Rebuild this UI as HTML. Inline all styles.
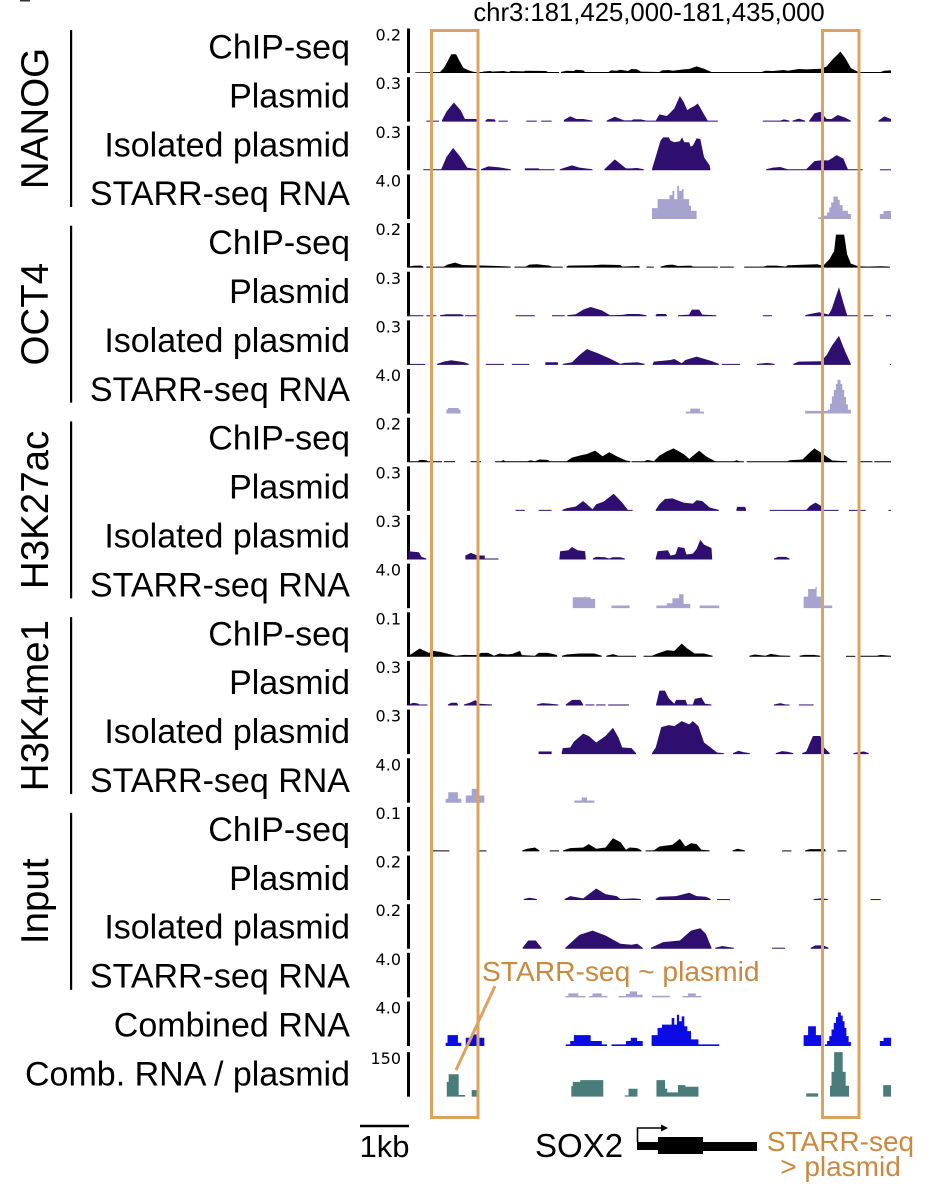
<!DOCTYPE html>
<html lang="en">
<head>
<meta charset="utf-8">
<title>SOX2 locus STARR-seq tracks</title>
<style>
html,body{margin:0;padding:0;background:#fff}
svg{display:block;font-family:"Liberation Sans",sans-serif}
</style>
</head>
<body>
<svg id="chart" xmlns="http://www.w3.org/2000/svg" width="942" height="1200" viewBox="0 0 942 1200">
  <rect x="0" y="0" width="942" height="1200" fill="#fff"/>
  <rect x="20" y="0" width="10" height="1.5" fill="#333"/>
  <text x="649" y="21" font-size="25.7" text-anchor="middle" fill="#000">chr3:181,425,000-181,435,000</text>
  <g id="groups"></g>
  <g id="tracks"></g>
  <g fill="none" stroke="#dca35f" stroke-width="3">
    <rect x="431.5" y="30.5" width="46.5" height="1087"/>
    <rect x="822.5" y="30.5" width="36.5" height="1087"/>
  </g>
  <text x="482" y="981" font-size="28.2" fill="#c98a3f">STARR-seq ~ plasmid</text>
  <line x1="456" y1="1070" x2="495" y2="986" stroke="#dca35f" stroke-width="3"/>
  <line x1="360" y1="1126" x2="409" y2="1126" stroke="#000" stroke-width="2.5"/>
  <text x="384.5" y="1157" font-size="31" text-anchor="middle" fill="#000">1kb</text>
  <text x="535" y="1157" font-size="33" fill="#000">SOX2</text>
  <g fill="#000">
    <rect x="637" y="1142" width="22" height="8"/>
    <rect x="658" y="1137" width="45" height="17"/>
    <rect x="703" y="1142" width="54" height="9"/>
    <path d="M637.5 1142V1128H662" fill="none" stroke="#000" stroke-width="1.6"/>
    <path d="M661 1124.5L668 1128L661 1131.5Z"/>
  </g>
  <text x="840.5" y="1151" font-size="28" text-anchor="middle" fill="#c98a3f">STARR-seq</text>
  <text x="840.5" y="1176" font-size="28" text-anchor="middle" fill="#c98a3f">&gt; plasmid</text>
</svg>
<script>
// Genomic axis: positions are bins across chr3:181,425,000-181,435,000. Signal: units of track height.
const xDomain = [130, 1428];
const yDomainMax = 135;
const groupNames = ['NANOG', 'OCT4', 'H3K27ac', 'H3K4me1', 'Input'];
const assayNames = ['ChIP-seq', 'Plasmid', 'Isolated plasmid', 'STARR-seq RNA'];
const tickLabels = ['0.2','0.3','0.3','4.0','0.2','0.3','0.3','4.0','0.2','0.3','0.3','4.0','0.1','0.3','0.3','4.0','0.1','0.2','0.2','4.0','4.0','150'];

const nanogChip = [[148,2,215,3,225,15,235,35,245,57,258,57,268,35,278,15,290,9,300,5,308,3,330,3],[330,4,350,6,355,4,385,6,400,3,405,6,440,5,445,7,500,6,505,3,535,3],[540,3,555,7,575,6,580,10,600,8,605,3,668,3,675,8,690,7,700,10,720,6,730,12,745,11,755,4,805,3,812,8,830,9,840,7,870,11,885,12,905,20,925,13,945,3,1080,3,1090,7,1110,6,1140,9,1150,7,1180,12,1200,11,1240,13,1255,20,1270,40,1292,65,1305,45,1320,15,1340,3,1400,3,1410,7,1428,8]];
const nanogPlasmid = [[178,3,212,3],[220,4,232,30,252,58,270,35,282,8,312,8,316,3],[337,3,342,8,362,7,364,3],[372,3,397,3],[447,3,475,3],[487,3,515,3],[548,5,565,16,582,8,600,8,625,3],[663,3,685,15,710,4,730,4,735,7,755,7,770,3,795,3,805,22,825,17,835,28,845,40,860,78,870,60,880,35,890,42,900,48,908,55,915,42,925,22,935,3,962,3],[1083,3,1130,3,1140,7,1155,3],[1163,3,1180,9,1197,3],[1208,3,1222,25,1238,30,1255,8,1268,8,1285,20,1305,12,1320,3],[1394,3,1410,16,1428,8]];
const nanogIsolated = [[170,3,218,3,232,40,250,68,270,40,288,8,316,3],[325,3,345,12,375,9,405,3],[443,6,480,6,482,3,523,3],[537,3,570,15,590,8,625,3],[657,3,685,33,715,6,730,6,745,7,763,3],[785,3,808,90,815,100,830,100,835,90,845,85,860,88,866,100,872,85,885,85,889,72,895,75,905,97,915,95,925,40,940,15,942,3],[1092,3,1110,8,1130,10,1150,3,1200,3,1222,28,1238,30,1260,30,1282,46,1300,35,1312,3,1352,3],[1398,3,1428,3]];
const nanogRna = [[785,33,800,60,832,72,840,85,845,60,853,100,858,85,865,90,870,60,880,60,885,40,890,25,905,0],[1232,5,1245,10,1256,20,1262,35,1267,50,1273,68,1285,58,1290,42,1298,25,1312,15,1320,0],[1398,15,1408,24,1428,0]];

const oct4Chip = [[130,3,145,6,165,6,170,3],[178,3,225,3,235,9,255,15,275,8,340,6,385,4,405,3],[415,3,445,3,455,9,475,10,510,6,515,3,545,3],[555,3,560,6,625,7,650,9,700,8,705,3,728,4,750,5,752,3],[770,3,790,3],[808,3,825,8,840,9,855,5,890,6,895,3,962,3],[968,3,1005,3],[1033,3,1085,3,1095,6,1120,6,1145,3,1150,7,1200,9,1230,10,1245,5,1262,25,1275,50,1280,100,1302,100,1310,40,1320,12,1340,4,1365,3,1400,4,1425,3]];
const oct4Plasmid = [[130,3,170,3],[178,3,205,3],[215,3,232,6,270,6,278,3],[282,3,316,3],[418,3,470,3],[516,3,550,3],[557,3,580,6,600,20,620,28,650,18,672,3,705,4,720,7,750,7,770,3],[795,3,798,7,822,7,825,3],[855,3,885,5,892,20,912,20,920,5,958,3],[1083,3,1108,3],[1197,3,1210,7,1235,12,1260,5,1268,20,1288,88,1300,40,1310,3,1338,3],[1355,3,1380,3],[1414,3,1428,3]];
const oct4Isolated = [[133,3,175,3],[207,3,225,10,245,14,280,8,292,3],[338,3,387,3],[408,3,455,3],[498,8,532,8],[545,3,570,8,590,30,610,48,640,35,670,20,700,3,710,6,745,8,765,3],[787,3,790,10,835,15,845,18,865,5,875,15,905,25,945,12,965,3],[973,3,1022,3],[1067,3,1095,6,1115,3],[1165,3,1180,10,1240,11,1255,30,1270,60,1288,88,1305,40,1320,3],[1425,3,1428,3]];
const oct4Rna = [[232,12,236,17,265,12,270,0],[876,6,888,15,914,6,925,0],[1197,8,1258,12,1264,30,1269,52,1274,72,1280,90,1284,102,1292,90,1297,72,1302,50,1307,28,1312,12,1320,0]];

const h3k27acChip = [[133,3,155,3,160,7,178,6,182,3,220,3],[225,3,255,3],[297,3,325,3],[363,3,380,3,385,7,390,3,450,3,458,6,470,3,482,8,505,7,510,3,555,3,570,14,590,20,610,25,632,35,652,18,670,30,690,18,715,5,727,3],[730,3,765,3,772,7,790,3,805,20,825,33,843,42,870,25,885,10,912,35,930,18,955,3,1005,3,1012,6,1020,3,1032,3],[1040,3,1150,3,1155,6,1190,8,1205,25,1222,42,1245,25,1270,5,1310,3],[1345,3,1378,3],[1383,3,1428,3]];
const h3k27acPlasmid = [[418,3,443,3],[480,3,515,3],[544,3,555,8,580,13,600,30,625,5,635,20,655,28,682,52,705,25,720,3,733,3],[795,3,805,20,820,36,840,38,870,25,895,22,905,32,920,30,940,10,965,3],[1012,3,1014,12,1036,12,1038,3],[1102,3,1200,3,1210,15,1225,25,1240,15,1248,3,1287,3],[1315,3,1360,3],[1421,3,1428,3]];
const h3k27acIsolated = [[130,25,158,22,165,8,178,3],[283,12,298,20,315,12,335,12,335,3,372,3],[536,3,538,25,560,28,570,38,585,28,605,25,607,3],[626,3,635,8,658,7,670,3,680,7,700,7,712,3],[795,3,800,25,828,28,835,12,848,15,855,38,872,35,878,15,895,18,905,32,915,60,925,45,945,35,947,3],[1113,3,1125,8,1145,8,1155,3]];
const h3k27acRna = [[572,33,604,37,606,33,620,28,632,0],[676,8,725,0],[797,8,825,15,840,30,858,42,870,13,888,0],[913,8,966,0],[1193,35,1205,58,1225,65,1228,35,1240,8,1270,0]];

const h3k4me1Chip = [[130,3,140,10,160,25,185,12,195,18,215,15,240,8,258,3,280,6,315,5,325,12,345,12,360,3,375,10,395,7,410,9,430,18,435,5,470,3,480,12,505,12,528,6,530,3],[543,3,555,7,590,10,630,10,650,3],[662,3,680,8,695,3,742,3],[762,3,785,3,800,10,825,20,845,18,865,40,880,25,900,10,925,10,948,3],[1047,3,1062,7,1090,3,1105,9,1130,4,1157,3],[1182,3,1195,6,1220,6,1238,3],[1307,3,1332,3],[1345,3,1390,3,1400,6,1428,3]];
const h3k4me1Plasmid = [[130,3,143,8,155,6,160,3,181,3],[236,3,245,8,260,8,263,3],[279,3,295,8,310,16,320,5,355,3],[475,3,490,7,505,6,533,3],[553,3,570,17,592,17,600,3],[606,3,630,3],[635,3,660,3],[667,3,723,3],[796,3,805,45,820,45,830,22,845,5,850,17,875,17,880,3,895,3,900,20,918,24,928,5,945,3],[1113,3,1130,7,1145,3,1155,3],[1180,3,1220,3]];
const h3k4me1Isolated = [[480,8,515,8],[542,3,545,18,565,20,575,38,600,62,615,55,635,35,660,55,680,80,695,50,705,20,730,18,742,3],[785,3,795,20,810,82,830,88,845,85,865,100,885,90,895,100,910,85,925,35,945,18,960,5,978,3],[1003,3,1018,10,1030,6,1048,3],[1118,3,1135,9,1150,7,1165,3],[1189,3,1200,8,1218,55,1238,55,1248,20,1263,3],[1327,3,1340,6,1355,8,1368,3]];
const h3k4me1Rna = [[230,12,237,32,263,12,272,0],[284,22,300,42,317,22,334,0],[576,7,596,16,610,7,630,0]];

const inputChip = [[195,3,240,3],[320,3,340,3],[436,3,450,8,470,12,482,3],[510,3,535,3],[546,3,565,10,600,12,615,22,635,8,660,12,680,40,700,28,715,5,725,12,745,10,757,3],[768,3,790,3,805,15,840,20,860,38,875,15,890,25,905,22,918,5,940,3],[1002,3,1015,8,1035,3],[1135,3,1160,3],[1197,3,1210,7,1250,7,1252,3],[1284,3,1308,3]];
const inputPlasmid = [[440,3,455,7,475,3],[550,3,565,12,600,5,635,35,660,18,690,12,700,3,735,5,755,3],[795,3,805,10,850,12,885,22,905,12,930,10,943,3],[960,3,995,3],[1220,3,1240,5,1258,3],[1373,3,1400,3]];
const inputIsolated = [[437,3,452,25,472,25,488,3],[552,3,590,42,625,55,660,40,700,15,730,12,745,15,760,3],[782,3,815,20,860,25,890,55,915,62,930,45,945,3],[955,3,975,8,990,5,1005,3],[1108,3,1143,3],[1212,3,1225,10,1245,10,1260,3]];
const inputRna = [[552,4,560,12,587,4,606,0],[616,4,625,12,650,4,665,0],[695,4,715,10,725,18,745,8,760,0],[785,5,833,0],[867,4,882,12,903,4,918,0]];

const combinedRna = [[230,10,235,33,263,10,272,0],[284,25,303,35,315,25,334,0],[553,5,565,15,575,33,620,15,650,5,664,0],[676,5,715,15,728,25,745,15,760,0],[784,33,800,55,812,65,830,65,838,85,845,65,852,95,858,75,865,90,872,60,880,45,890,20,910,5,966,0],[1193,33,1205,60,1226,33,1240,0],[1250,5,1256,15,1262,30,1268,50,1274,70,1280,88,1285,102,1293,92,1298,75,1303,55,1308,30,1314,12,1320,0],[1398,15,1408,25,1428,0]];
const combinedRatio = [[233,45,238,68,265,5,282,0],[300,20,314,0],[568,32,572,45,592,50,654,0],[712,4,722,24,746,0],[797,50,820,24,826,13,855,35,875,30,910,0],[1200,10,1232,0],[1264,33,1268,75,1275,135,1298,75,1306,33,1315,0],[1407,35,1428,0]];

const trackSeries = [nanogChip,nanogPlasmid,nanogIsolated,nanogRna,oct4Chip,oct4Plasmid,oct4Isolated,oct4Rna,h3k27acChip,h3k27acPlasmid,h3k27acIsolated,h3k27acRna,h3k4me1Chip,h3k4me1Plasmid,h3k4me1Isolated,h3k4me1Rna,inputChip,inputPlasmid,inputIsolated,inputRna,combinedRna,combinedRatio];

const NS = 'http://www.w3.org/2000/svg';
const plot = {x0: 408.5, x1: 891, top: 28.5, rowStep: 48.65, axisH: 44.5};
const brackets = {top: 30, step: 195.7, height: 177};
const rowLabels = {firstBaseline: 58.5, step: 48.9};
const colors = {'ChIP-seq':'#000', 'Plasmid':'#2e0e6e', 'Isolated plasmid':'#2e0e6e', 'STARR-seq RNA':'#a6a3cf', 'Combined RNA':'#0b0be6', 'Comb. RNA / plasmid':'#4a7c7c'};

function xScale(pos) {
  return plot.x0 + (pos - xDomain[0]) / (xDomain[1] - xDomain[0]) * (plot.x1 - plot.x0);
}
function yScale(val, base) {
  return base - val / yDomainMax * plot.axisH;
}
function rowTop(i) {
  return plot.top + i * plot.rowStep + (i === 21 ? 2 : 0);
}
function segmentPoints(seg, base, step) {
  const pts = [[xScale(seg[0]), base]];
  for (let k = 0; k < seg.length; k += 2) {
    const px = xScale(seg[k]);
    const py = yScale(seg[k + 1], base);
    if (step && k > 0) pts.push([px, yScale(seg[k - 1], base)]);
    pts.push([px, py]);
  }
  pts.push([xScale(seg[seg.length - 2]), base]);
  return pts.map(p => p[0].toFixed(2) + ',' + p[1].toFixed(2)).join(' ');
}

const svgTracks = document.getElementById('tracks');
const svgGroups = document.getElementById('groups');

trackSeries.forEach(function (series, i) {
  const isGroup = i < 20;
  const assay = isGroup ? assayNames[i % 4] : (i === 20 ? 'Combined RNA' : 'Comb. RNA / plasmid');
  const step = assay === 'STARR-seq RNA' || !isGroup;
  const top = rowTop(i);
  const base = top + plot.axisH;

  const g = document.createElementNS(NS, 'g');
  
  

  const label = document.createElementNS(NS, 'text');
  
  
  label.setAttribute('x', 350);
  label.setAttribute('y', rowLabels.firstBaseline + i * rowLabels.step);
  label.setAttribute('font-size', 34);
  label.setAttribute('text-anchor', 'end');
  label.textContent = assay;
  g.appendChild(label);

  const tick = document.createElementNS(NS, 'text');
  
  
  tick.setAttribute('x', 401);
  tick.setAttribute('y', top + 12);
  tick.setAttribute('font-size', 16);
  tick.setAttribute('font-family', '"DejaVu Sans",sans-serif');
  tick.setAttribute('text-anchor', 'end');
  tick.textContent = tickLabels[i];
  g.appendChild(tick);

  const axis = document.createElementNS(NS, 'rect');
  
  
  axis.setAttribute('x', 407);
  axis.setAttribute('y', top);
  axis.setAttribute('width', 3);
  axis.setAttribute('height', plot.axisH);
  g.appendChild(axis);

  series.forEach(function (seg) {
    const poly = document.createElementNS(NS, 'polygon');
    
    
    poly.setAttribute('points', segmentPoints(seg, base, step));
    poly.setAttribute('fill', colors[assay]);
    g.appendChild(poly);
  });

  svgTracks.appendChild(g);
});

groupNames.forEach(function (name, i) {
  const top = brackets.top + i * brackets.step;
  const bar = document.createElementNS(NS, 'rect');
  
  
  bar.setAttribute('x', 70);
  bar.setAttribute('y', top);
  bar.setAttribute('width', 2.2);
  bar.setAttribute('height', brackets.height);
  svgGroups.appendChild(bar);

  const text = document.createElementNS(NS, 'text');
  
  
  const cy = top + brackets.height / 2;
  text.setAttribute('transform', 'translate(48,' + cy + ') rotate(-90)');
  text.setAttribute('font-size', 38.5);
  text.setAttribute('text-anchor', 'middle');
  text.textContent = name;
  svgGroups.appendChild(text);
});
</script>
</body>
</html>
